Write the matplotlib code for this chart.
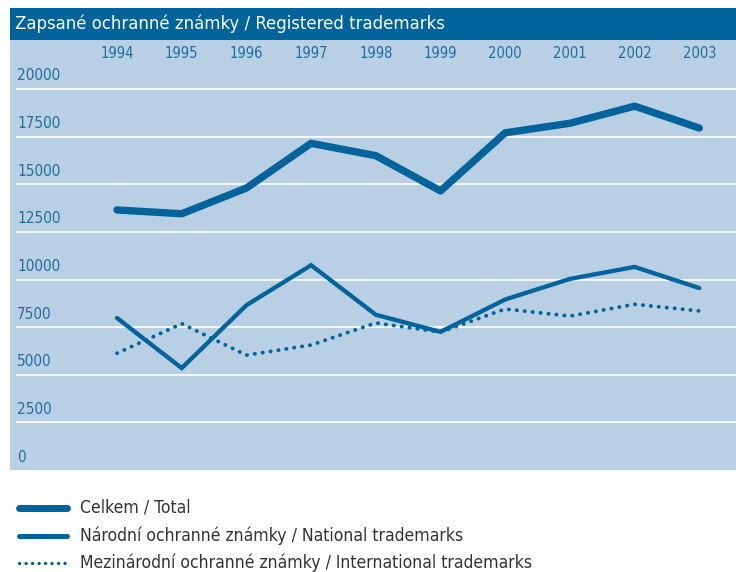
import matplotlib.pyplot as plt
from matplotlib.patches import Rectangle
import matplotlib.transforms as mtransforms

years = [1994, 1995, 1996, 1997, 1998, 1999, 2000, 2001, 2002, 2003]
total = [13650, 13450, 14800, 17150, 16500, 14650, 17700, 18200, 19100, 17950]
national = [7980, 5350, 8650, 10750, 8150, 7250, 8950, 10030, 10660, 9550]
international = [6130, 7680, 6030, 6560, 7720, 7240, 8450, 8080, 8700, 8350]
yticks = [0, 2500, 5000, 7500, 10000, 12500, 15000, 17500, 20000]

title = 'Zapsané ochranné známky / Registered trademarks'
labels = ['Celkem / Total',
          'Národní ochranné známky / National trademarks',
          'Mezinárodní ochranné známky / International trademarks']

BLUE = '#00639b'
PANEL = '#b9d0e4'
TXT = '#1f6d9e'
W, H = 736, 572

plt.rcParams['font.family'] = ['DejaVu Sans']
plt.rcParams['font.stretch'] = 'condensed'

fig = plt.figure(figsize=(W / 100, H / 100), dpi=100)

# pixel coords (from top-left) -> figure fraction
def fx(px):
  return px / W
def fy(py):
  return 1 - py / H

fig.patches.append(Rectangle((fx(10), fy(40)), fx(736) - fx(10), fy(8) - fy(40),
                             transform=fig.transFigure, facecolor=BLUE, edgecolor='none'))
fig.text(fx(15), fy(24), title, color='white', fontsize=13.2, va='center', ha='left')

ax = fig.add_axes([fx(10), fy(470), fx(736) - fx(10), fy(40) - fy(470)])
ax.set_facecolor(PANEL)
for s in ax.spines.values():
  s.set_visible(False)
ax.set_xticks([])
ax.set_yticks([])

# 1994 at x=117, step 64.7 px; 0 at y=470, 20000 at y=89
step = 64.7
ax.set_xlim(years[0] - (117 - 10) / step, years[0] + (736 - 117) / step)
ax.set_ylim(0, (470 - 40) / (470 - 89) * 20000)
px = 20000 / (470 - 89)

x0 = (17 - 10) / (736 - 10)
for v in yticks[1:]:
  ax.axhline(v, xmin=x0, xmax=1, color='white', lw=1.2, zorder=1)
trans = mtransforms.blended_transform_factory(ax.transAxes, ax.transData)
for v in yticks:
  ax.text(x0, v + 13 * px, str(v), transform=trans, color=TXT, fontsize=11,
          ha='left', va='center')

tr_top = mtransforms.blended_transform_factory(ax.transData, fig.transFigure)
for yr in years:
  ax.text(yr, fy(53), str(yr), transform=tr_top, color=TXT, fontsize=10.5,
          ha='center', va='center')

ax.plot(years, total, color=BLUE, lw=5.3, solid_capstyle='round',
        solid_joinstyle='round', zorder=3)
ax.plot(years, national, color=BLUE, lw=3.1, solid_capstyle='round',
        solid_joinstyle='miter', zorder=3)
ax.plot(years, international, color=BLUE, lw=2.8, linestyle=(0, (0.05, 2.0)),
        dash_capstyle='round', zorder=3)

# legend drawn below the panel
styles = [dict(lw=5.0, linestyle='-', solid_capstyle='round'),
          dict(lw=3.6, linestyle='-', solid_capstyle='round'),
          dict(lw=2.4, linestyle=(0, (0.05, 1.9)), dash_capstyle='round')]
rows = [508, 536, 563]
for lab, st, ry in zip(labels, styles, rows):
  fig.add_artist(plt.Line2D([fx(19), fx(67)], [fy(ry), fy(ry)], color=BLUE,
                            transform=fig.transFigure, **st))
  fig.text(fx(80), fy(ry), lab, color='#333333', fontsize=12.6, va='center', ha='left')

fig.savefig('out.png', dpi=100)
